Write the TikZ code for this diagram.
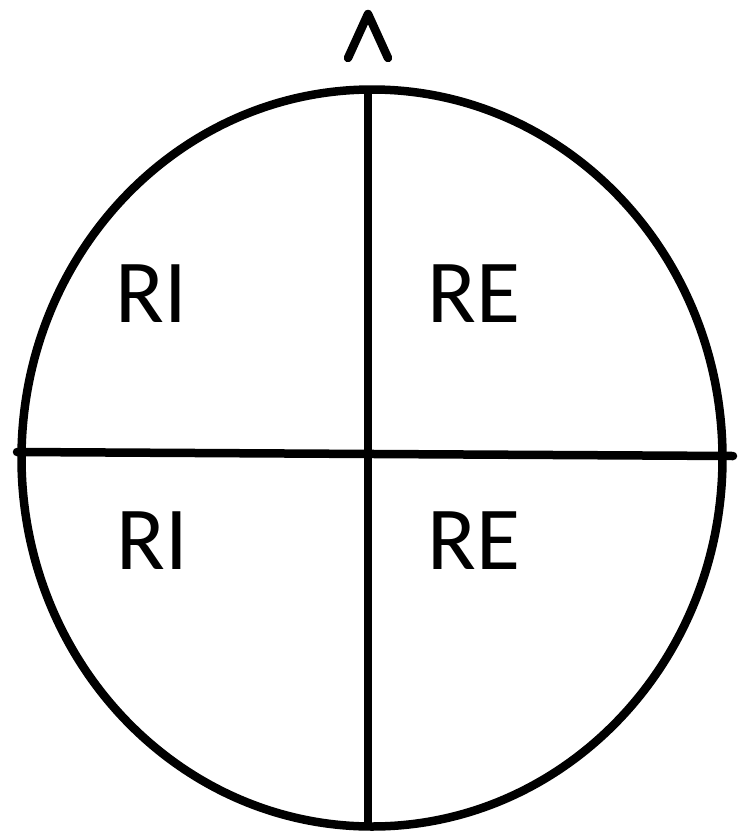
\documentclass[tikz,border=0pt]{standalone}
\usepackage{fontspec}
\setmainfont{Carlito}
\usepackage{tikz}
\usetikzlibrary{shapes.geometric}

\begin{document}
\begin{tikzpicture}[x=1pt, y=-1pt, every node/.style={font=\fontsize{90}{100}\selectfont}, stroke/.style={draw, line width=8.5pt}, quad/.style={inner sep=0pt, anchor=center}]
\useasboundingbox (0,0) rectangle (744,833);
\node[stroke, ellipse, minimum width=701pt, minimum height=737pt, inner sep=0pt] (disc) at (372,458) {};
\coordinate (top) at (368,86);
\coordinate (bottom) at (368,830);
\coordinate (left) at (17,452);
\coordinate (right) at (733,456);
\draw[stroke] (top) -- (bottom);
\draw[stroke, line cap=round] (left) -- (right);
% caret above the disc
\coordinate (capL) at (348,58);
\coordinate (capT) at (368,14);
\coordinate (capR) at (388,58);
\draw[stroke, line cap=round, line join=round] (capL) -- (capT) -- (capR);
\node[quad] (ri1) at (151,294) {RI};
\node[quad] (re1) at (474,294) {RE};
\node[quad] (ri2) at (152,541) {RI};
\node[quad] (re2) at (474,541) {RE};
\end{tikzpicture}
\end{document}
